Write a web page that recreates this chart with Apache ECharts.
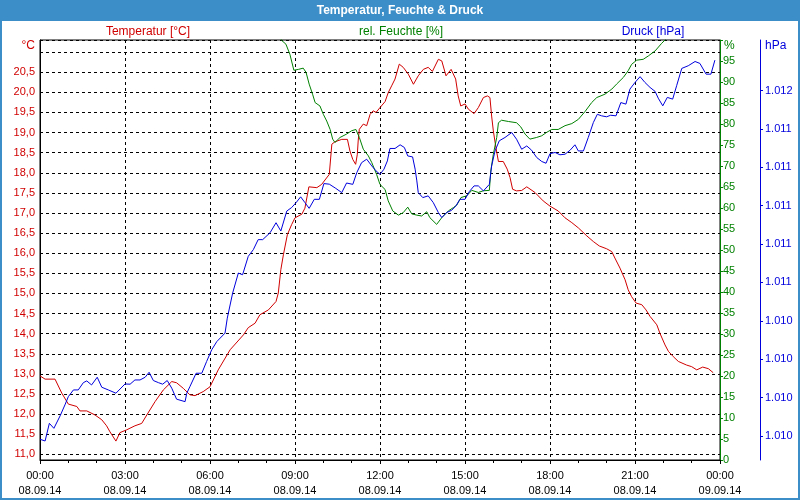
<!DOCTYPE html>
<html><head><meta charset="utf-8">
<script src="https://cdn.jsdelivr.net/npm/echarts@6/dist/echarts.min.js"></script>
<style>html,body{margin:0;padding:0;background:#fff}#c{width:800px;height:500px}</style>
</head><body><div id="c"></div>
<script>
const tickTimes = ['00:00','03:00','06:00','09:00','12:00','15:00','18:00','21:00','00:00'];
const tickDates = ['08.09.14','08.09.14','08.09.14','08.09.14','08.09.14','08.09.14','08.09.14','08.09.14','09.09.14'];
const pressTicks = [1009.8,1010.0,1010.2,1010.4,1010.6,1010.8,1011.0,1011.2,1011.4,1011.6];

const tempHours = [0,0.18,0.53,0.77,1.00,1.30,1.41,1.65,1.94,2.18,
2.35,2.47,2.68,2.82,3.06,3.35,3.59,3.77,4.06,4.35,
4.65,4.82,5.06,5.29,5.47,5.76,6.00,6.29,6.71,7.18,
7.35,7.59,7.76,8.06,8.33,8.41,8.50,8.59,8.73,8.88,
9.00,9.24,9.35,9.49,9.77,9.94,10.21,10.30,10.41,10.65,
10.85,10.94,11.04,11.14,11.20,11.23,11.27,11.41,11.53,11.65,
11.76,11.86,12.00,12.18,12.29,12.41,12.53,12.68,12.82,13.00,
13.18,13.35,13.53,13.70,13.85,14.06,14.18,14.33,14.51,14.67,
14.76,14.85,15.00,15.12,15.32,15.47,15.65,15.79,15.88,15.94,
16.00,16.09,16.18,16.35,16.49,16.59,16.68,16.82,17.00,17.18,
17.47,17.76,18.00,18.29,18.53,18.77,19.00,19.30,19.53,19.74,
20.00,20.18,20.29,20.47,20.65,20.76,20.88,21.04,21.24,21.39,
21.53,21.77,21.88,22.06,22.18,22.35,22.53,22.82,23.00,23.18,
23.39,23.59,23.76];
const tempValues = [12.95,12.87,12.87,12.52,12.25,12.19,12.08,12.08,11.98,11.86,
11.71,11.56,11.33,11.54,11.61,11.71,11.77,11.98,12.31,12.60,
12.81,12.78,12.64,12.48,12.46,12.56,12.68,13.10,13.60,13.97,
14.15,14.26,14.47,14.59,14.80,15.01,15.59,15.96,16.46,16.71,
16.88,16.97,17.12,17.65,17.63,17.71,17.96,18.71,18.77,18.83,
18.83,18.54,18.33,18.21,18.46,18.79,19.08,19.21,19.17,19.45,
19.54,19.50,19.62,19.77,19.99,20.16,20.33,20.70,20.62,20.45,
20.20,20.41,20.57,20.62,20.52,20.82,20.78,20.41,20.57,20.33,
19.91,19.66,19.71,19.58,19.47,19.62,19.87,19.91,19.87,19.41,
19.04,18.63,18.28,18.28,18.09,17.88,17.59,17.55,17.56,17.65,
17.51,17.30,17.17,17.05,16.88,16.76,16.63,16.43,16.29,16.18,
16.11,16.04,15.88,15.63,15.34,15.09,14.92,14.76,14.72,14.59,
14.43,14.22,14.01,13.72,13.56,13.43,13.31,13.22,13.18,13.10,
13.17,13.13,13.03];

const humHours = [8.40,8.53,8.68,8.82,8.96,9.12,9.29,9.39,9.50,9.62,
9.71,9.88,10.00,10.12,10.24,10.33,10.41,10.59,10.82,11.00,
11.15,11.27,11.41,11.59,11.71,11.88,12.00,12.18,12.29,12.45,
12.65,12.82,12.98,13.12,13.30,13.47,13.65,13.76,14.00,14.18,
14.41,14.59,14.71,14.86,15.06,15.24,15.47,15.65,15.86,15.91,
16.00,16.12,16.18,16.29,16.53,16.82,16.97,17.12,17.29,17.53,
17.71,17.88,18.06,18.29,18.53,18.77,19.00,19.24,19.47,19.65,
19.94,20.18,20.35,20.59,20.76,20.88,21.06,21.29,21.47,21.71,
21.94,22.09,22.31,22.76,23.76];
const humValues = [101.5,99.9,99.0,96.6,92.8,93.0,93.3,92.3,89.5,87.1,
85.1,84.3,82.3,80.7,78.7,76.4,75.6,76.8,77.6,78.4,
78.7,76.8,74.0,72.4,70.8,68.0,65.6,64.4,61.7,59.3,
58.3,58.9,60.2,58.6,58.3,58.1,59.1,57.7,56.1,57.7,
59.3,60.1,60.7,62.5,62.9,64.2,63.7,64.1,64.2,68.8,
72.8,76.8,80.3,80.9,80.6,80.3,79.3,77.6,76.4,76.8,
77.2,78.0,78.7,78.7,79.6,80.1,81.1,83.0,85.1,86.3,
87.1,88.3,89.5,91.1,92.7,94.2,95.2,95.4,96.2,97.4,
99.2,100.2,101.8,104.9,109.7];

const pressHours = [0,0.18,0.33,0.49,0.71,0.88,1.00,1.18,1.35,1.53,
1.65,1.82,2.02,2.18,2.41,2.68,3.00,3.18,3.35,3.53,
3.71,3.85,4.00,4.18,4.33,4.49,4.65,4.82,5.12,5.18,
5.29,5.51,5.71,5.88,6.06,6.24,6.53,6.61,6.80,7.00,
7.15,7.35,7.53,7.70,7.86,8.12,8.33,8.50,8.71,8.88,
9.04,9.20,9.35,9.50,9.68,9.86,10.02,10.21,10.44,10.65,
10.82,11.04,11.18,11.35,11.53,11.71,11.86,12.00,12.14,12.26,
12.35,12.53,12.71,12.86,12.98,13.15,13.24,13.30,13.35,13.51,
13.70,13.88,14.06,14.18,14.35,14.53,14.68,14.82,15.00,15.15,
15.32,15.47,15.65,15.86,15.94,16.06,16.21,16.41,16.65,16.82,
17.00,17.18,17.35,17.53,17.71,17.86,18.00,18.18,18.35,18.53,
18.71,18.88,19.00,19.18,19.35,19.53,19.67,19.82,20.00,20.14,
20.33,20.50,20.68,20.82,21.00,21.18,21.35,21.53,21.71,21.82,
21.98,22.14,22.33,22.47,22.65,22.88,23.12,23.29,23.51,23.68,
23.82];
const pressValues = [1009.783,1009.774,1009.866,1009.840,1009.905,1009.962,1010.005,1010.040,1010.040,1010.078,
1010.087,1010.066,1010.106,1010.054,1010.040,1010.023,1010.071,1010.070,1010.092,1010.092,
1010.106,1010.132,1010.089,1010.078,1010.070,1010.089,1010.049,1009.992,1009.979,1010.023,
1010.057,1010.127,1010.127,1010.188,1010.249,1010.292,1010.336,1010.414,1010.545,1010.649,
1010.640,1010.736,1010.771,1010.823,1010.823,1010.859,1010.911,1010.868,1010.972,1010.990,
1011.016,1011.046,1011.016,1010.986,1011.033,1011.033,1011.115,1011.112,1011.090,1011.068,
1011.118,1011.111,1011.172,1011.224,1011.242,1011.207,1011.181,1011.163,1011.190,1011.233,
1011.298,1011.298,1011.317,1011.303,1011.259,1011.254,1011.190,1011.129,1011.068,1011.042,
1011.051,1011.016,1010.964,1010.938,1010.964,1010.976,1010.999,1011.033,1011.033,1011.073,
1011.103,1011.103,1011.077,1011.111,1011.207,1011.285,1011.338,1011.355,1011.381,1011.346,
1011.294,1011.311,1011.289,1011.251,1011.230,1011.221,1011.271,1011.277,1011.265,1011.268,
1011.289,1011.317,1011.285,1011.285,1011.355,1011.433,1011.476,1011.468,1011.463,1011.471,
1011.468,1011.537,1011.529,1011.607,1011.642,1011.672,1011.642,1011.616,1011.595,1011.560,
1011.520,1011.564,1011.555,1011.625,1011.715,1011.729,1011.751,1011.741,1011.685,1011.685,
1011.758];

const RED = '#d00000', GREEN = '#008000', BLUE = '#0000dd', FRAME = '#3c8ec8';
const FONT = 'Liberation Sans, Arial, sans-serif';
const zip = (a, b) => a.map((h, i) => [h, b[i]]);

const chart = echarts.init(document.getElementById('c'), null, {renderer: 'canvas'});
chart.setOption({
  animation: false,
  backgroundColor: '#fff',
  textStyle: {fontFamily: FONT},
  grid: {left: 40, right: 80, top: 40, bottom: 40, show: true, borderColor: '#000', borderWidth: 1, backgroundColor: '#fff'},
  xAxis: {
    type: 'value', min: 0, max: 24, interval: 3,
    axisLine: {lineStyle: {color: '#000', width: 1}},
    axisTick: {show: true, length: 4, lineStyle: {color: '#000'}},
    minorTick: {show: true, splitNumber: 3, length: 3, lineStyle: {color: '#000'}},
    splitLine: {show: true, lineStyle: {color: '#000', type: [3, 3], width: 1}},
    axisLabel: {
      color: '#000', fontSize: 11, fontFamily: FONT, lineHeight: 15, margin: 8,
      formatter: v => { const i = Math.round(v / 3); return tickTimes[i] + '\n' + tickDates[i]; }
    }
  },
  yAxis: [
    {
      type: 'value', position: 'left', min: 10.86, max: 21.3, minInterval: 0.5, maxInterval: 0.5,
      axisLine: {show: true, lineStyle: {color: '#000'}},
      axisTick: {show: false},
      splitLine: {show: true, lineStyle: {color: '#000', type: [3, 3], width: 1}},
      axisLabel: {
        color: RED, fontSize: 11, fontFamily: FONT, margin: 5,
        formatter: v => {
          if (Math.abs(v * 2 - Math.round(v * 2)) > 1e-6 || v > 20.75) return '';
          return v.toFixed(1).replace('.', ',');
        }
      }
    },
    {
      type: 'value', position: 'right', offset: 0, min: 0, max: 100, interval: 5,
      axisLine: {show: true, lineStyle: {color: GREEN, width: 1}},
      axisTick: {show: true, length: 3, lineStyle: {color: GREEN}},
      splitLine: {show: false},
      axisLabel: {
        color: GREEN, fontSize: 11, fontFamily: FONT, margin: 3,
        formatter: v => (v >= 100 ? '' : String(v))
      }
    },
    {
      type: 'value', position: 'right', offset: 40, min: 1009.675, max: 1011.863,
      minInterval: 0.2, maxInterval: 0.2,
      axisLine: {show: true, lineStyle: {color: BLUE, width: 1}},
      axisTick: {show: true, length: 3, lineStyle: {color: BLUE}, customValues: pressTicks},
      splitLine: {show: false},
      axisLabel: {
        color: BLUE, fontSize: 11, fontFamily: FONT, margin: 5, customValues: pressTicks,
        formatter: v => {
          if (v > 1011.7) return '';
          const r = Math.round(v);
          return Math.floor(r / 1000) + '.' + String(r % 1000).padStart(3, '0');
        }
      }
    }
  ],
  series: [
    {name: 'Temperatur', type: 'line', yAxisIndex: 0, data: zip(tempHours, tempValues),
     symbol: 'none', lineStyle: {color: RED, width: 1}, itemStyle: {color: RED}, clip: true, z: 3},
    {name: 'rel. Feuchte', type: 'line', yAxisIndex: 1, data: zip(humHours, humValues),
     symbol: 'none', lineStyle: {color: GREEN, width: 1}, itemStyle: {color: GREEN}, clip: true, z: 3},
    {name: 'Druck', type: 'line', yAxisIndex: 2, data: zip(pressHours, pressValues),
     symbol: 'none', lineStyle: {color: BLUE, width: 1}, itemStyle: {color: BLUE}, clip: true, z: 3}
  ],
  graphic: [
    {type: 'rect', shape: {x: 0, y: 0, width: 800, height: 21}, style: {fill: FRAME}, z: 10},
    {type: 'rect', shape: {x: 1, y: 1, width: 798, height: 498}, style: {fill: null, stroke: FRAME, lineWidth: 2}, z: 10},
    {type: 'text', z: 11, style: {x: 400, y: 10.5, text: 'Temperatur, Feuchte & Druck', fill: '#fff', font: 'bold 12px ' + FONT, textAlign: 'center', textVerticalAlign: 'middle'}},
    {type: 'text', z: 11, style: {x: 148, y: 32, text: 'Temperatur [°C]', fill: RED, font: '12px ' + FONT, textAlign: 'center', textVerticalAlign: 'middle'}},
    {type: 'text', z: 11, style: {x: 401, y: 32, text: 'rel. Feuchte [%]', fill: GREEN, font: '12px ' + FONT, textAlign: 'center', textVerticalAlign: 'middle'}},
    {type: 'text', z: 11, style: {x: 653, y: 32, text: 'Druck [hPa]', fill: BLUE, font: '12px ' + FONT, textAlign: 'center', textVerticalAlign: 'middle'}},
    {type: 'text', z: 11, style: {x: 35, y: 46, text: '°C', fill: RED, font: '12px ' + FONT, textAlign: 'right', textVerticalAlign: 'middle'}},
    {type: 'text', z: 11, style: {x: 724, y: 46, text: '%', fill: GREEN, font: '12px ' + FONT, textAlign: 'left', textVerticalAlign: 'middle'}},
    {type: 'text', z: 11, style: {x: 765, y: 46, text: 'hPa', fill: BLUE, font: '12px ' + FONT, textAlign: 'left', textVerticalAlign: 'middle'}}
  ]
});
</script>
</body></html>
